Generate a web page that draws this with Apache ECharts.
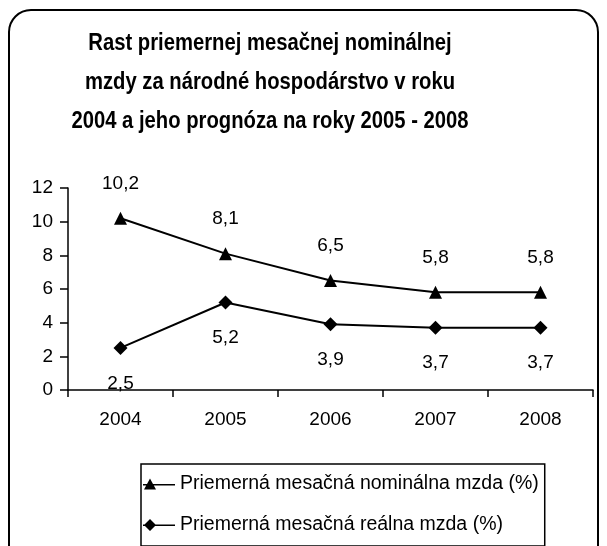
<!DOCTYPE html>
<html>
<head>
<meta charset="utf-8">
<script src="https://cdn.jsdelivr.net/npm/echarts@6/dist/echarts.min.js"></script>
<style>
  html, body { margin: 0; padding: 0; background: #fff; }
</style>
</head>
<body>
<div id="chart" style="width: 607px; height: 546px"></div>
<script>
// data
var years = ["2004", "2005", "2006", "2007", "2008"];
var nominalna = [10.2, 8.1, 6.5, 5.8, 5.8];
var realna = [2.5, 5.2, 3.9, 3.7, 3.7];
var seriesNames = ["Priemerná mesačná nominálna mzda (%)", "Priemerná mesačná reálna mzda (%)"];
var titleText = "Rast priemernej mesačnej nominálnej\nmzdy za národné hospodárstvo v roku\n2004 a jeho prognóza na roky 2005 - 2008";

var font = "Liberation Sans, Arial, sans-serif";
function fmt(p) {
  return String(p.value).replace(".", ",");
}
// legend icons: line with the marker sitting near its left end
var iconTri = "path://M0,5.5 L32,5.5 L32,7 L0,7 Z M7,0 L13,11 L1,11 Z";
var iconDia = "path://M0,5.5 L32,5.5 L32,7 L0,7 Z M7,0 L13,6 L7,12 L1,6 Z";

var myChart = echarts.init(document.getElementById("chart"));
var option = {
  animation: false,
  graphic: [
    {
      type: "rect",
      shape: { x: 9, y: 10, width: 589, height: 560, r: 22 },
      style: { fill: "none", stroke: "#000", lineWidth: 2 },
      z: -1
    },
    {
      type: "text",
      x: 270,
      y: 24,
      scaleX: 0.88,
      style: {
        text: titleText,
        font: "bold 23px " + font,
        fill: "#000",
        align: "center",
        verticalAlign: "top",
        lineHeight: 39
      }
    }
  ],
  legend: {
    orient: "vertical",
    left: 141,
    top: 464,
    padding: [10, 6, 11, 2],
    itemGap: 21,
    itemWidth: 32,
    itemHeight: 12,
    borderColor: "#000",
    borderWidth: 1.5,
    textStyle: { fontFamily: font, fontSize: 19.5, color: "#000" },
    data: [
      { name: seriesNames[0], icon: iconTri },
      { name: seriesNames[1], icon: iconDia }
    ]
  },
  grid: { left: 68, right: 14, top: 188, bottom: 156 },
  xAxis: {
    type: "category",
    data: years,
    boundaryGap: true,
    axisLine: { lineStyle: { color: "#000", width: 1.5 } },
    axisTick: { show: true, length: 7, lineStyle: { color: "#000", width: 1.5 } },
    axisLabel: { color: "#000", fontFamily: font, fontSize: 19, margin: 20 }
  },
  yAxis: {
    type: "value",
    min: 0,
    max: 12,
    interval: 2,
    splitLine: { show: false },
    axisLine: { show: true, lineStyle: { color: "#000", width: 1.5 } },
    axisTick: { show: true, inside: false, length: 8, lineStyle: { color: "#000", width: 1.5 } },
    axisLabel: { color: "#000", fontFamily: font, fontSize: 19, margin: 15 }
  },
  series: [
    {
      name: seriesNames[0],
      type: "line",
      data: nominalna,
      symbol: "triangle",
      symbolSize: 13,
      itemStyle: { color: "#000" },
      lineStyle: { color: "#000", width: 2 },
      label: {
        show: true,
        position: "top",
        distance: 19,
        formatter: fmt,
        color: "#000",
        fontFamily: font,
        fontSize: 19
      }
    },
    {
      name: seriesNames[1],
      type: "line",
      data: realna,
      symbol: "diamond",
      symbolSize: 14,
      itemStyle: { color: "#000" },
      lineStyle: { color: "#000", width: 2 },
      label: {
        show: true,
        position: "bottom",
        distance: 19,
        formatter: fmt,
        color: "#000",
        fontFamily: font,
        fontSize: 19
      }
    }
  ]
};
myChart.setOption(option);
</script>
</body>
</html>
